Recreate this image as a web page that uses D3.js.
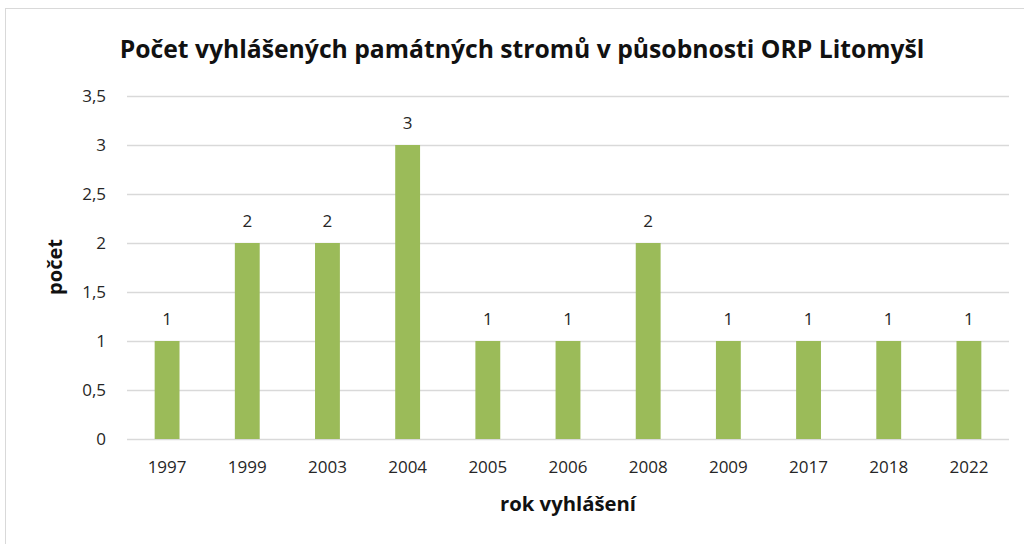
<!DOCTYPE html>
<html><head><meta charset="utf-8">
<script src="https://cdn.jsdelivr.net/npm/d3@7"></script>
<style>body{margin:0;background:#fff;}svg{display:block;}</style>
</head><body>
<svg id="c" width="1024" height="544"></svg>
<script>
const categories = ["1997","1999","2003","2004","2005","2006","2008","2009","2017","2018","2022"];
const values = [1,2,2,3,1,1,2,1,1,1,1];
const yTicks = [0,0.5,1,1.5,2,2.5,3,3.5];
const title = "Počet vyhlášených památných stromů v působnosti ORP Litomyšl";
const xTitle = "rok vyhlášení";
const yTitle = "počet";

const svg = d3.select("#c");
const font = "'Open Sans', 'Liberation Sans', sans-serif";
svg.append("rect").attr("x",5.5).attr("y",8.5).attr("width",1030).attr("height",550)
  .attr("fill","#fff").attr("stroke","#d9d9d9");

const m = {l:127, r:1009, t:96, b:439};
const x = d3.scaleBand().domain(categories).range([m.l,m.r]).paddingInner(0.69).paddingOuter(0.345);
const y = d3.scaleLinear().domain([0,3.5]).range([m.b,m.t]);

const grid = svg.append("g");
grid.selectAll("line").data(yTicks).join("line")
  .attr("x1",m.l).attr("x2",m.r).attr("y1",d=>Math.round(y(d))+0.5).attr("y2",d=>Math.round(y(d))+0.5)
  .attr("stroke","#d9d9d9").attr("stroke-width",1.3);

const fmt = d=>String(d).replace(".",",");
const yAxis = d3.axisLeft(y).tickValues(yTicks).tickFormat(fmt).tickSize(0).tickPadding(0);
const ya = svg.append("g").attr("transform",`translate(${m.l-21},0)`).call(yAxis);
ya.select(".domain").remove();
ya.selectAll("text").attr("font-family",font).attr("font-size",17).attr("fill","#262626");

svg.append("g").selectAll("rect").data(values).join("rect")
  .attr("x",(d,i)=>x(categories[i])).attr("width",x.bandwidth())
  .attr("y",d=>y(d)).attr("height",d=>y(0)-y(d)).attr("fill","#9bbb59");

svg.append("g").selectAll("text").data(values).join("text")
  .attr("x",(d,i)=>x(categories[i])+x.bandwidth()/2).attr("y",d=>y(d)-16)
  .attr("text-anchor","middle").attr("font-family",font).attr("font-size",17).attr("fill","#262626")
  .text(d=>d);

const xAxis = d3.axisBottom(x).tickSize(0).tickPadding(0);
const xa = svg.append("g").attr("transform",`translate(0,${m.b+22})`).call(xAxis);
xa.select(".domain").remove();
xa.selectAll("text").attr("font-family",font).attr("font-size",17).attr("fill","#262626").attr("dy","0.71em");

function fit(sel, w){ const n=sel.node(); const cur=n.getComputedTextLength(); const fs=+sel.attr("font-size"); sel.attr("font-size", fs*w/cur); }

const t = svg.append("text").attr("x",522).attr("y",58).attr("text-anchor","middle")
  .attr("font-family",font).attr("font-weight","bold").attr("font-size",22).attr("fill","#111").text(title);
fit(t, 805);

const xt = svg.append("text").attr("x",568).attr("y",511).attr("text-anchor","middle")
  .attr("font-family",font).attr("font-weight","bold").attr("font-size",17).attr("fill","#111").text(xTitle);
fit(xt, 136);

const yt = svg.append("text").attr("transform","translate(62,267) rotate(-90)").attr("text-anchor","middle")
  .attr("font-family",font).attr("font-weight","bold").attr("font-size",17).attr("fill","#111").text(yTitle);
fit(yt, 56);
</script>
</body></html>
